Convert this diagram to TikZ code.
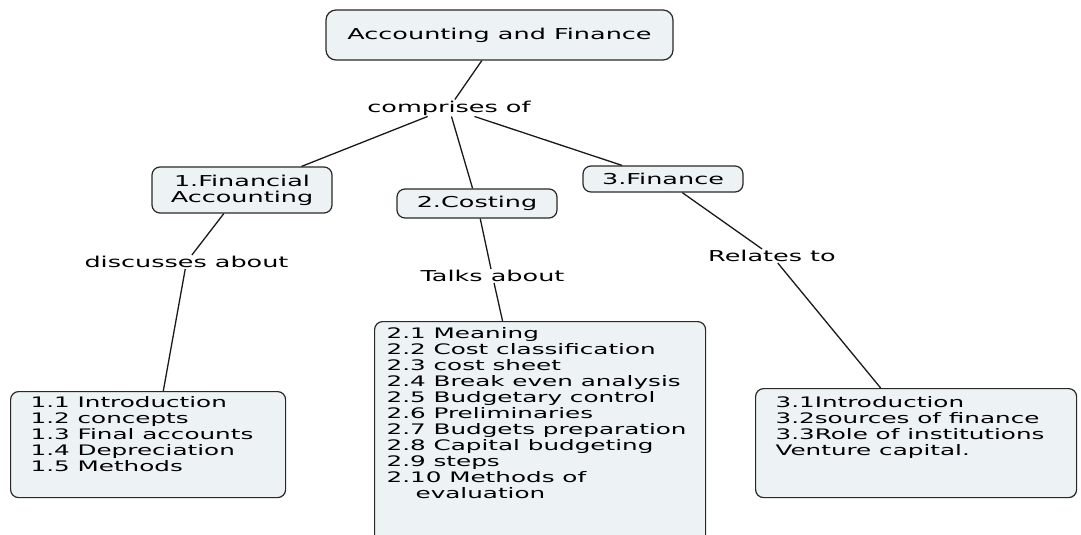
\documentclass[tikz,border=0pt]{standalone}
\usepackage{fontspec}
\setmainfont{DejaVu Sans}[FakeStretch=1.7]
\usetikzlibrary{calc}
\definecolor{boxfill}{RGB}{237,242,244}
\definecolor{boxline}{RGB}{40,40,40}
\definecolor{linecol}{RGB}{25,25,25}
\newcommand\fsA{\fontsize{15}{16}\selectfont}
\newcommand\fsB{\fontsize{14.5}{16}\selectfont}
\tikzset{
  box/.style={draw=boxline, fill=boxfill, line width=1.2pt, rounded corners=8pt},
  cat/.style={box, inner sep=0pt, align=center, font=\fsA},
  listbox/.style={box, inner sep=0pt, anchor=north west, font=\fsB},
  lbl/.style={inner sep=1pt, font=\fsA},
  link/.style={draw=linecol, line width=1.3pt},
}
\begin{document}
\begin{tikzpicture}[x=1pt,y=-1pt]
\clip (0,0) rectangle (1081,535);
\fill[white] (0,0) rectangle (1081,535);
% main boxes
\node[cat, minimum width=347pt, minimum height=50pt, rounded corners=10pt] (top) at (499.5,35) {Accounting and Finance};
\node[cat, minimum width=180pt, minimum height=46pt] (fa) at (242,190) {1.Financial\\Accounting};
\node[cat, minimum width=160pt, minimum height=29pt] (cost) at (477,203.5) {2.Costing};
\node[cat, minimum width=160pt, minimum height=26pt] (fin) at (663,179) {3.Finance};
% labels
\node[lbl] (comp) at (449,108) {comprises of};
\node[lbl] (disc) at (186.5,262) {discusses about};
\node[lbl] (talk) at (492.5,276) {Talks about};
\node[lbl] (rel) at (772,256) {Relates to};
% list boxes
\node[listbox] (b1) at (10,391) {\parbox[t][106pt][t]{275pt}{\vspace*{5pt}\leftskip=20pt\fsB
1.1 Introduction\\
1.2 concepts\\
1.3 Final accounts\\
1.4 Depreciation\\
1.5 Methods}};
\node[listbox] (b2) at (374,321) {\parbox[t][240pt][t]{331pt}{\vspace*{6pt}\leftskip=12pt\fsB
2.1 Meaning\\
2.2 Cost classification\\
2.3 cost sheet\\
2.4 Break even analysis\\
2.5 Budgetary control\\
2.6 Preliminaries\\
2.7 Budgets preparation\\
2.8 Capital budgeting\\
2.9 steps\\
2.10 Methods of\\
\hspace*{29pt}evaluation}};
\node[listbox] (b3) at (755,388) {\parbox[t][109pt][t]{321pt}{\vspace*{8pt}\leftskip=20pt\fsB
3.1Introduction\\
3.2sources of finance\\
3.3Role of institutions\\
Venture capital.}};
% connectors
\draw[link] (top) -- (comp);
\draw[link] (comp) -- (fa);
\draw[link] (comp) -- (cost);
\draw[link] (comp) -- (fin);
\draw[link] (fa) -- (disc);
\draw[link] (disc) -- ($(b1.north west)!0.555!(b1.north east)$);
\draw[link] (cost) -- (talk);
\draw[link] (talk) -- ($(b2.north west)!0.387!(b2.north east)$);
\draw[link] (fin) -- (rel);
\draw[link] (rel) -- ($(b3.north west)!0.39!(b3.north east)$);
\end{tikzpicture}
\end{document}
